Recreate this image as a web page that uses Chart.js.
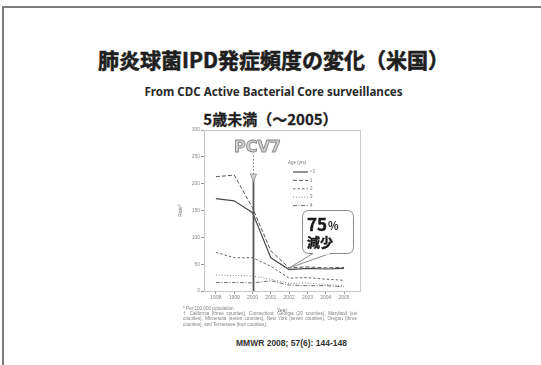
<!DOCTYPE html>
<html lang="ja">
<head>
<meta charset="utf-8">
<script src="https://cdn.jsdelivr.net/npm/chart.js@4.4.1/dist/chart.umd.min.js"></script>
<style>
html, body { margin: 0; padding: 0; background: #fff; }
body { width: 541px; height: 365px; position: relative; overflow: hidden; font-family: "Noto Sans CJK JP", sans-serif; color: #222; }
.marco { position: absolute; left: 2px; top: 6px; right: -4px; bottom: -4px; border-left: 2px solid #7c7c7c; border-top: 2px solid #7c7c7c; }
.titulo { position: absolute; left: 0; width: 547px; top: 45px; text-align: center; font-size: 21px; font-weight: 700; line-height: 28px; color: #1e1e1e; -webkit-text-stroke: 0.6px #1e1e1e; }
.subtitulo { position: absolute; left: 0; width: 547px; top: 84px; text-align: center; font-family: "Noto Sans", sans-serif; font-size: 11.6px; font-weight: 700; line-height: 15px; color: #2a2a2a; }
.edad { position: absolute; left: 0; width: 541px; top: 108px; text-align: center; font-size: 15px; font-weight: 700; line-height: 21px; color: #1e1e1e; -webkit-text-stroke: 0.3px #1e1e1e; }
#grafico { position: absolute; left: 170px; top: 122px; }
.notas { position: absolute; left: 183px; top: 306px; width: 174px; font-family: "Liberation Sans", sans-serif; font-size: 4.6px; line-height: 5.2px; color: #808080; text-align: justify; }
.cita { position: absolute; left: 0; width: 583px; top: 338px; text-align: center; font-family: "Liberation Sans", sans-serif; font-size: 8.5px; font-weight: 700; line-height: 10px; color: #333; }
</style>
</head>
<body>
<div class="marco"></div>
<div class="titulo">肺炎球菌IPD発症頻度の変化（米国）</div>
<div class="subtitulo">From CDC Active Bacterial Core surveillances</div>
<div class="edad">5歳未満（～2005）</div>
<canvas id="grafico" width="200" height="192"></canvas>
<div class="notas">* Per 100,000 population.<br>† California (three counties), Connecticut, Georgia (20 counties), Maryland (six counties), Minnesota (seven counties), New York (seven counties), Oregon (three counties), and Tennessee (four counties).</div>
<div class="cita">MMWR 2008; 57(6): 144-148</div>

<script>
// años y tasas por 100,000 (niños menores de 5 años)
const anios = [1998, 1999, 2000, 2001, 2002, 2003, 2004, 2005]
const tasaMenos1 = [172, 168, 146, 62, 40, 42, 41, 42]
const tasa1 = [213, 216, 155, 75, 43, 45, 43, 44]
const tasa2 = [72, 62, 62, 46, 24, 25, 22, 20]
const tasa3 = [30, 29, 28, 22, 14, 15, 12, 10]
const tasa4 = [16, 16, 15, 19, 11, 10, 10, 8]
const etiquetasEdad = ['<1', '1', '2', '3', '4']
const tituloLeyenda = 'Age (yrs)'
const ticksY = [0, 50, 100, 150, 200, 250, 300]
const anioVacuna = 2000
const textoVacuna = 'PCV7'

const puntos = (serie) => anios.map((a, i) => ({ x: a, y: serie[i] }))

/* --- anotaciones: marco, PCV7, leyenda y globo --- */
const anotaciones = {
    id: 'anotaciones',

    beforeDatasetsDraw(chart) {
        const { ctx, chartArea: a } = chart
        ctx.save()
        ctx.strokeStyle = '#c8c8c8'
        ctx.lineWidth = 1
        ctx.strokeRect(a.left + 0.5, a.top + 0.5, a.right - a.left, a.bottom - a.top)
        ctx.restore()
    },

    afterDatasetsDraw(chart) {
        const { ctx, chartArea: a, scales } = chart
        const xv = Math.round(scales.x.getPixelForValue(anioVacuna)) + 0.5

        ctx.save()

        // línea vertical de introducción de la vacuna
        ctx.strokeStyle = '#555'
        ctx.lineWidth = 1.8
        ctx.beginPath()
        ctx.moveTo(xv, 56)
        ctx.lineTo(xv, a.bottom)
        ctx.stroke()

        // flecha punteada
        ctx.strokeStyle = '#9a9a9a'
        ctx.lineWidth = 1
        ctx.setLineDash([2, 1.5])
        ctx.beginPath()
        ctx.moveTo(xv, 33)
        ctx.lineTo(xv, 58)
        ctx.stroke()
        ctx.setLineDash([])
        ctx.fillStyle = '#d0d0d0'
        ctx.beginPath()
        ctx.moveTo(xv - 3, 52)
        ctx.lineTo(xv + 3, 52)
        ctx.lineTo(xv, 60)
        ctx.closePath()
        ctx.fill()
        ctx.stroke()

        // texto PCV7 con contorno
        ctx.font = 'bold 16px "DejaVu Sans"'
        ctx.textAlign = 'center'
        ctx.textBaseline = 'alphabetic'
        ctx.fillStyle = '#d2d2d2'
        ctx.strokeStyle = '#8c8c8c'
        ctx.lineWidth = 0.9
        ctx.fillText(textoVacuna, xv + 4, 30)
        ctx.strokeText(textoVacuna, xv + 4, 30)

        // leyenda
        ctx.font = '4.5px "Liberation Sans"'
        ctx.fillStyle = '#777'
        ctx.textAlign = 'left'
        ctx.textBaseline = 'middle'
        ctx.fillText(tituloLeyenda, 118, 41)
        chart.data.datasets.forEach((ds, i) => {
            const y = 50 + i * 8.4
            ctx.strokeStyle = ds.borderColor
            ctx.lineWidth = ds.borderWidth
            ctx.setLineDash(ds.borderDash || [])
            ctx.beginPath()
            ctx.moveTo(123, y)
            ctx.lineTo(138, y)
            ctx.stroke()
            ctx.setLineDash([])
            ctx.fillText(ds.label, 140, y)
        })

        // globo con el porcentaje de reducción
        const punta = {
            x: scales.x.getPixelForValue(anios[4]),
            y: scales.y.getPixelForValue(tasa1[4])
        }
        const caja = { x: 132, y: 88, w: 51, h: 43 }
        ctx.fillStyle = '#fff'
        ctx.strokeStyle = '#8a8a8a'
        ctx.lineWidth = 1
        ctx.beginPath()
        ctx.roundRect(caja.x + 0.5, caja.y + 0.5, caja.w, caja.h, 6)
        ctx.fill()
        ctx.stroke()

        const b1 = caja.x + 11
        const b2 = caja.x + 28
        const yb = caja.y + caja.h + 0.5
        ctx.beginPath()
        ctx.moveTo(b1, yb)
        ctx.lineTo(punta.x, punta.y)
        ctx.lineTo(b2, yb)
        ctx.closePath()
        ctx.fill()
        ctx.beginPath()
        ctx.moveTo(b1, yb)
        ctx.lineTo(punta.x, punta.y)
        ctx.lineTo(b2, yb)
        ctx.stroke()
        ctx.fillRect(b1 + 0.8, yb - 1, b2 - b1 - 1.6, 2)

        ctx.fillStyle = '#1a1a1a'
        ctx.strokeStyle = '#1a1a1a'
        ctx.lineWidth = 0.4
        ctx.textBaseline = 'alphabetic'
        ctx.font = 'bold 17px "Noto Sans CJK JP"'
        ctx.fillText('75', caja.x + 5, caja.y + 21)
        ctx.strokeText('75', caja.x + 5, caja.y + 21)
        const anchoNum = ctx.measureText('75').width
        ctx.font = 'bold 11px "Noto Sans CJK JP"'
        ctx.fillText('%', caja.x + 6 + anchoNum, caja.y + 20)
        ctx.font = 'bold 13px "Noto Sans CJK JP"'
        ctx.fillText('減少', caja.x + 5, caja.y + 37)
        ctx.strokeText('減少', caja.x + 5, caja.y + 37)

        ctx.restore()
    }
}

const estilo = (label, data, color, ancho, guion) => ({
    label,
    data: puntos(data),
    borderColor: color,
    borderWidth: ancho,
    borderDash: guion,
    pointRadius: 0,
    tension: 0,
    fill: false
})

document.addEventListener("DOMContentLoaded", () => {

    const ctxTasas = document.getElementById('grafico').getContext('2d')

    new Chart(ctxTasas, {
        type: 'line',
        data: {
            datasets: [
                estilo(etiquetasEdad[0], tasaMenos1, '#4a4a4a', 1.2, []),
                estilo(etiquetasEdad[1], tasa1, '#555', 1, [4, 2]),
                estilo(etiquetasEdad[2], tasa2, '#666', 1, [2.5, 2]),
                estilo(etiquetasEdad[3], tasa3, '#858585', 1, [1, 1.8]),
                estilo(etiquetasEdad[4], tasa4, '#707070', 1, [4, 1.5, 1, 1.5])
            ]
        },
        options: {
            responsive: false,
            animation: false,
            devicePixelRatio: 1,
            layout: { padding: { left: 8, top: 8, right: 10, bottom: 0 } },
            plugins: { legend: { display: false }, tooltip: { enabled: false } },
            scales: {
                x: {
                    type: 'linear',
                    min: 1997.35,
                    max: 2005.87,
                    afterBuildTicks: (s) => { s.ticks = anios.map(v => ({ value: v })) },
                    afterFit: (s) => { s.height = 23 },
                    grid: { drawOnChartArea: false, tickLength: 3, color: '#999' },
                    border: { color: '#999' },
                    ticks: { font: { size: 5, family: 'Liberation Sans' }, color: '#888', padding: 1, maxRotation: 0, callback: (v) => String(v) },
                    title: { display: true, text: 'Year', font: { size: 5, family: 'Liberation Sans' }, color: '#777', padding: { top: 2, bottom: 0 } }
                },
                y: {
                    min: 0,
                    max: 300,
                    afterBuildTicks: (s) => { s.ticks = ticksY.map(v => ({ value: v })) },
                    afterFit: (s) => { s.width = 26 },
                    grid: { drawOnChartArea: false, tickLength: 3, color: '#999' },
                    border: { color: '#999' },
                    ticks: { font: { size: 5, family: 'Liberation Sans' }, color: '#888', padding: 1 },
                    title: { display: true, text: 'Rate*', font: { size: 5, family: 'Liberation Sans' }, color: '#777', padding: 0 }
                }
            }
        },
        plugins: [anotaciones]
    })
})
</script>
</body>
</html>
